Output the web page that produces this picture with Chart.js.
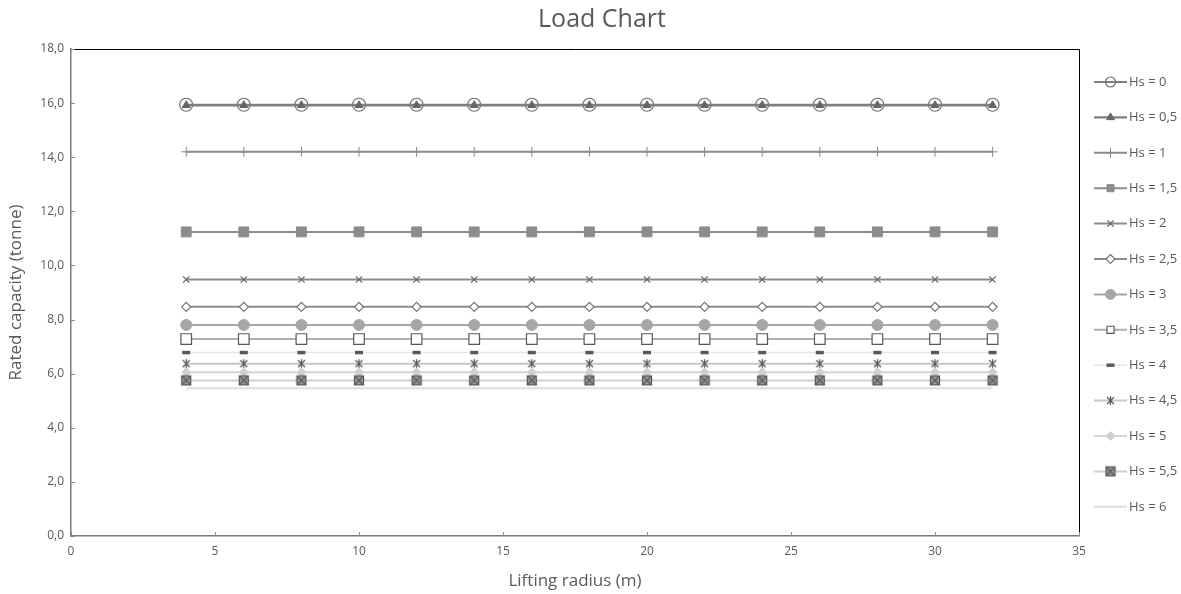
<!DOCTYPE html>
<html><head><meta charset="utf-8">
<script src="https://cdn.jsdelivr.net/npm/chart.js@4.4.1/dist/chart.umd.min.js"></script>
<style>html,body{margin:0;padding:0;background:#fff}#wrap{width:1181px;height:594px;position:relative}</style>
</head><body><div id="wrap"><canvas id="c"></canvas></div>
<script>
// ---- data ----
const chartTitle = 'Load Chart';
const radiusM = [4, 6, 8, 10, 12, 14, 16, 18, 20, 22, 24, 26, 28, 30, 32];
const seriesNames = ['Hs = 0','Hs = 0,5','Hs = 1','Hs = 1,5','Hs = 2','Hs = 2,5','Hs = 3','Hs = 3,5','Hs = 4','Hs = 4,5','Hs = 5','Hs = 5,5','Hs = 6'];
const hs0  = [15.94,15.94,15.94,15.94,15.94,15.94,15.94,15.94,15.94,15.94,15.94,15.94,15.94,15.94,15.94];
const hs05 = [15.92,15.92,15.92,15.92,15.92,15.92,15.92,15.92,15.92,15.92,15.92,15.92,15.92,15.92,15.92];
const hs1  = [14.2,14.2,14.2,14.2,14.2,14.2,14.2,14.2,14.2,14.2,14.2,14.2,14.2,14.2,14.2];
const hs15 = [11.24,11.24,11.24,11.24,11.24,11.24,11.24,11.24,11.24,11.24,11.24,11.24,11.24,11.24,11.24];
const hs2  = [9.48,9.48,9.48,9.48,9.48,9.48,9.48,9.48,9.48,9.48,9.48,9.48,9.48,9.48,9.48];
const hs25 = [8.47,8.47,8.47,8.47,8.47,8.47,8.47,8.47,8.47,8.47,8.47,8.47,8.47,8.47,8.47];
const hs3  = [7.8,7.8,7.8,7.8,7.8,7.8,7.8,7.8,7.8,7.8,7.8,7.8,7.8,7.8,7.8];
const hs35 = [7.28,7.28,7.28,7.28,7.28,7.28,7.28,7.28,7.28,7.28,7.28,7.28,7.28,7.28,7.28];
const hs4  = [6.78,6.78,6.78,6.78,6.78,6.78,6.78,6.78,6.78,6.78,6.78,6.78,6.78,6.78,6.78];
const hs45 = [6.37,6.37,6.37,6.37,6.37,6.37,6.37,6.37,6.37,6.37,6.37,6.37,6.37,6.37,6.37];
const hs5  = [6.05,6.05,6.05,6.05,6.05,6.05,6.05,6.05,6.05,6.05,6.05,6.05,6.05,6.05,6.05];
const hs55 = [5.75,5.75,5.75,5.75,5.75,5.75,5.75,5.75,5.75,5.75,5.75,5.75,5.75,5.75,5.75];
const hs6  = [5.46,5.46,5.46,5.46,5.46,5.46,5.46,5.46,5.46,5.46,5.46,5.46,5.46,5.46,5.46];
const seriesValues = [hs0, hs05, hs1, hs15, hs2, hs25, hs3, hs35, hs4, hs45, hs5, hs55, hs6];
const yTickValues = [0, 2, 4, 6, 8, 10, 12, 14, 16, 18];
const xTickValues = [0, 5, 10, 15, 20, 25, 30, 35];

// ---- custom marker images ----
function makeStar() {
  const c = document.createElement('canvas'); c.width = 11; c.height = 11;
  const g = c.getContext('2d'); g.strokeStyle = '#555'; g.lineWidth = 1.2;
  g.beginPath(); g.moveTo(2,2); g.lineTo(9,9); g.moveTo(9,2); g.lineTo(2,9); g.moveTo(5.5,1); g.lineTo(5.5,10); g.stroke();
  return c;
}
function makeBoxX() {
  const c = document.createElement('canvas'); c.width = 12; c.height = 12;
  const g = c.getContext('2d');
  g.fillStyle = '#9a9a9a'; g.fillRect(1,1,10,10);
  g.strokeStyle = '#555'; g.lineWidth = 1.2; g.strokeRect(1.5,1.5,9,9);
  g.beginPath(); g.moveTo(2.5,2.5); g.lineTo(9.5,9.5); g.moveTo(9.5,2.5); g.lineTo(2.5,9.5); g.stroke();
  return c;
}

const styles = [
  {line:'#808080', w:2.2, ps:'circle',   r:6.5, fill:'rgba(0,0,0,0)', stroke:'#6f6f6f', bw:1.2},
  {line:'#808080', w:2.2, ps:'triangle', r:4.5, fill:'#666666', stroke:'#666666', bw:1},
  {line:'#8a8a8a', w:2,   ps:'cross',    r:5,   fill:'#8a8a8a', stroke:'#8a8a8a', bw:1},
  {line:'#8c8c8c', w:2,   ps:'rect',     r:7,   fill:'#8c8c8c', stroke:'#8c8c8c', bw:1},
  {line:'#8c8c8c', w:2,   ps:'crossRot', r:4.5, fill:'#666666', stroke:'#666666', bw:1.2},
  {line:'#8c8c8c', w:2,   ps:'rectRot',  r:4.5, fill:'#ffffff', stroke:'#737373', bw:1.2},
  {line:'#a6a6a6', w:2,   ps:'circle',   r:5.5, fill:'#a6a6a6', stroke:'#a6a6a6', bw:1},
  {line:'#b0b0b0', w:2,   ps:'rect',     r:7.5, fill:'#ffffff', stroke:'#595959', bw:1.2},
  {line:'#e6e6e6', w:1.5, ps:'line',     r:4,   fill:'#595959', stroke:'#595959', bw:3.5},
  {line:'#c8c8c8', w:2,   ps:makeStar(), r:5,   fill:'#555555', stroke:'#555555', bw:1},
  {line:'#d6d6d6', w:2,   ps:'rectRot',  r:4.5, fill:'#d0d0d0', stroke:'#d0d0d0', bw:1},
  {line:'#d0d0d0', w:2,   ps:makeBoxX(), r:6,   fill:'#9a9a9a', stroke:'#555555', bw:1},
  {line:'#e2e2e2', w:2.5, ps:'circle',   r:0,   fill:'#e2e2e2', stroke:'#e2e2e2', bw:0}
];

const datasets = seriesNames.map((name, i) => ({
  label: name,
  data: radiusM.map((x, j) => ({x: x, y: seriesValues[i][j]})),
  borderColor: styles[i].line,
  borderWidth: styles[i].w,
  pointStyle: styles[i].ps,
  pointRadius: styles[i].r,
  pointHoverRadius: styles[i].r,
  pointBackgroundColor: styles[i].fill,
  pointBorderColor: styles[i].stroke,
  pointBorderWidth: styles[i].bw,
  showLine: true,
  fill: false,
  tension: 0,
  order: seriesNames.length - i
}));

const FONT = "'Open Sans', 'Liberation Sans', sans-serif";
const TXT = '#595959';

const framePlugin = {
  id: 'frame',
  beforeDatasetsDraw(chart) {
    const {ctx, chartArea: a, scales} = chart;
    ctx.save();
    ctx.strokeStyle = '#000'; ctx.lineWidth = 1;
    ctx.beginPath();
    ctx.moveTo(a.left, a.top + 0.5); ctx.lineTo(a.right + 0.5, a.top + 0.5); ctx.lineTo(a.right + 0.5, a.bottom);
    ctx.stroke();
    ctx.strokeStyle = '#8c8c8c'; ctx.lineWidth = 1;
    ctx.beginPath();
    yTickValues.forEach(v => { const y = Math.round(scales.y.getPixelForValue(v)) + 0.5; ctx.moveTo(a.left, y); ctx.lineTo(a.left + 4, y); });
    xTickValues.forEach(v => { const x = Math.round(scales.x.getPixelForValue(v)) + 0.5; ctx.moveTo(x, a.bottom); ctx.lineTo(x, a.bottom - 4); });
    ctx.stroke();
    // title
    ctx.fillStyle = TXT; ctx.font = '25px ' + FONT; ctx.textAlign = 'center'; ctx.textBaseline = 'middle';
    ctx.fillText(chartTitle, 602, 20);
    ctx.restore();
  }
};

const legendPlugin = {
  id: 'sideLegend',
  afterDraw(chart) {
    const ctx = chart.ctx;
    const helpers = Chart.helpers;
    ctx.save();
    seriesNames.forEach((name, i) => {
      const y = 82 + i * 35.4;
      const s = styles[i];
      ctx.strokeStyle = s.line; ctx.lineWidth = s.w;
      ctx.beginPath(); ctx.moveTo(1094, y); ctx.lineTo(1127, y); ctx.stroke();
      if (s.r > 0 && helpers && helpers.drawPoint) {
        ctx.fillStyle = s.fill; ctx.strokeStyle = s.stroke; ctx.lineWidth = s.bw;
        helpers.drawPoint(ctx, {pointStyle: s.ps, radius: Math.min(s.r, 5), rotation: 0, borderWidth: s.bw}, 1110.5, y);
      }
      ctx.fillStyle = TXT; ctx.font = '13px ' + FONT; ctx.textBaseline = 'middle'; ctx.textAlign = 'left';
      ctx.fillText(name, 1129, y);
    });
    ctx.restore();
  }
};

new Chart(document.getElementById('c'), {
  type: 'scatter',
  data: { datasets: datasets },
  options: {
    responsive: true,
    maintainAspectRatio: false,
    animation: false,
    layout: { padding: { left: 0, right: 102, top: 49, bottom: 0 } },
    plugins: {
      legend: { display: false },
      tooltip: { enabled: false },
      title: { display: false }
    },
    scales: {
      x: {
        type: 'linear', min: 0, max: 35,
        afterBuildTicks: s => { s.ticks = xTickValues.map(v => ({value: v})); },
        afterFit: s => { s.height = 58; },
        grid: { display: true, drawOnChartArea: false, drawTicks: false },
        border: { display: true, color: '#7a7a7a', width: 1.5 },
        ticks: { color: TXT, font: { family: FONT, size: 12 }, padding: 8 },
        title: { display: true, text: 'Lifting radius (m)', color: TXT, font: { family: FONT, size: 17 }, padding: { top: 6, bottom: 3 } }
      },
      y: {
        type: 'linear', min: 0, max: 18,
        afterBuildTicks: s => { s.ticks = yTickValues.map(v => ({value: v})); },
        afterFit: s => { s.width = 71; },
        grid: { display: true, drawOnChartArea: false, drawTicks: false },
        border: { display: true, color: '#7a7a7a', width: 1.5 },
        ticks: { color: TXT, font: { family: FONT, size: 12 }, padding: 7,
          callback: v => v.toFixed(1).replace('.', ',') },
        title: { display: true, text: 'Rated capacity (tonne)', color: TXT, font: { family: FONT, size: 17 }, padding: { top: 6, bottom: 4 } }
      }
    }
  },
  plugins: [framePlugin, legendPlugin]
});
</script>
</body></html>
